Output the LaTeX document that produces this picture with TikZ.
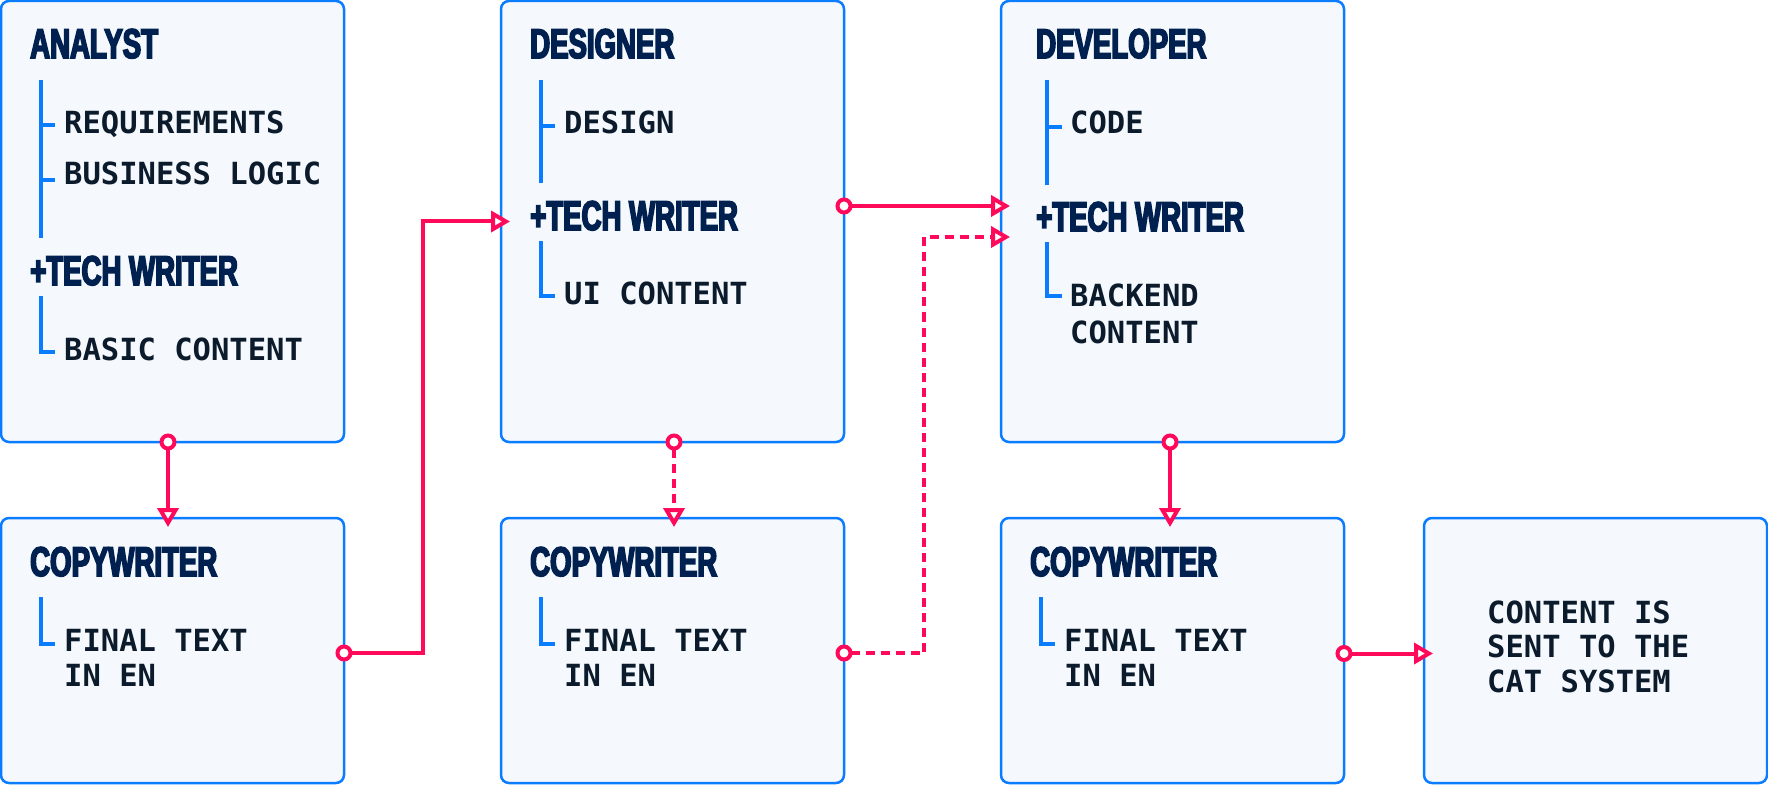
\documentclass[tikz,border=0pt]{standalone}
\usepackage{fontspec}
\usetikzlibrary{arrows.meta}
\newfontfamily\monof{DejaVu Sans Mono}
\newfontfamily\titlef[FakeStretch=0.665,FakeBold=4]{Liberation Sans Bold}
\definecolor{bl}{HTML}{0A7CFF}
\definecolor{pk}{HTML}{FF0A5B}
\definecolor{bgf}{HTML}{F5F9FE}
\definecolor{navy}{HTML}{00214F}
\definecolor{ink}{HTML}{0C1B2C}
\begin{document}
\begin{tikzpicture}[x=1pt,y=-1pt,
  box/.style={draw=bl, fill=bgf, line width=2.5pt, rounded corners=8pt, inner sep=0pt, outer sep=0pt, anchor=north west},
  ttl/.style={font=\titlef\fontsize{41.5}{44}\selectfont, text=navy, inner sep=0pt, anchor=base west},
  txt/.style={font=\monof\bfseries\fontsize{30.5}{34}\selectfont, text=ink, inner sep=0pt, anchor=base west},
  brk/.style={draw=bl, line width=4pt},
  conn/.style={draw=pk, line width=4pt, arrows={Circle[length=17pt,fill=white]-Triangle[length=19pt,width=21pt,fill=white]}, shorten <=-8.5pt, shorten >=-9pt},
  dsh/.style={dash pattern=on 9pt off 6pt}]
\useasboundingbox (0,0) rectangle (1768,791);
% boxes
\node[box, minimum width=343pt, minimum height=441pt] (an) at (1,1) {};
\node[box, minimum width=343pt, minimum height=441pt] (de) at (501,1) {};
\node[box, minimum width=343pt, minimum height=441pt] (dv) at (1001,1) {};
\node[box, minimum width=343pt, minimum height=265pt] (c1) at (1,518) {};
\node[box, minimum width=343pt, minimum height=265pt] (c2) at (501,518) {};
\node[box, minimum width=343pt, minimum height=265pt] (c3) at (1001,518) {};
\node[box, minimum width=343pt, minimum height=265pt] (fin) at (1424,518) {};
% analyst
\node[ttl] (an-t) at (30,58) {ANALYST};
\draw[brk] (41,80) -- (41,238);
\draw[brk] (41,125) -- (55,125);
\draw[brk] (41,180) -- (55,180);
\node[txt] (an-1) at (64,134) {REQUIREMENTS};
\node[txt] (an-2) at (64,185) {BUSINESS LOGIC};
\node[ttl] (an-tw) at (30,285) {+TECH WRITER};
\draw[brk] (41,296) -- (41,352) -- (55,352);
\node[txt] (an-3) at (64,360) {BASIC CONTENT};
% designer
\node[ttl] (de-t) at (530,58) {DESIGNER};
\draw[brk] (541,80) -- (541,183);
\draw[brk] (541,126) -- (555,126);
\node[txt] (de-1) at (564,134) {DESIGN};
\node[ttl] (de-tw) at (530,230) {+TECH WRITER};
\draw[brk] (541,241) -- (541,296) -- (555,296);
\node[txt] (de-2) at (564,305) {UI CONTENT};
% developer
\node[ttl] (dv-t) at (1036,58) {DEVELOPER};
\draw[brk] (1047,80) -- (1047,185);
\draw[brk] (1047,127) -- (1062,127);
\node[txt] (dv-1) at (1070,134) {CODE};
\node[ttl] (dv-tw) at (1036,231) {+TECH WRITER};
\draw[brk] (1047,242) -- (1047,296) -- (1062,296);
\node[txt] (dv-2) at (1070,306) {BACKEND};
\node[txt] (dv-3) at (1070,343) {CONTENT};
% copywriters
\foreach \ox/\nm in {0/c1,500/c2,1000/c3}{
  \node[ttl] (\nm-t) at (\ox+30,576) {COPYWRITER};
  \draw[brk] (\ox+41,597) -- (\ox+41,644) -- (\ox+55,644);
  \node[txt] (\nm-1) at (\ox+64,651.5) {FINAL TEXT};
  \node[txt] (\nm-2) at (\ox+64,686) {IN EN};
}
% final
\node[txt] (fin-1) at (1487,623) {CONTENT IS};
\node[txt] (fin-2) at (1487,657) {SENT TO THE};
\node[txt] (fin-3) at (1487,692) {CAT SYSTEM};
% connectors
\draw[conn] ([xshift=-4.5pt]an.south) -- ([xshift=-4.5pt]c1.north);
\draw[conn] ([yshift=-2.5pt]c1.east) -- ++(78.5,0) |- (de.west);
\draw[conn] ([yshift=15.5pt]de.east) -- ([yshift=15.5pt]dv.west);
\draw[conn,dsh] ([xshift=1.5pt]de.south) -- ([xshift=1.5pt]c2.north);
\draw[conn,dsh] ([yshift=-2.5pt]c2.east) -- ++(80,0) |- ([yshift=-15.5pt]dv.west);
\draw[conn] ([xshift=-2.5pt]dv.south) -- ([xshift=-2.5pt]c3.north);
\draw[conn] ([yshift=-3pt]c3.east) -- ([yshift=-3pt]fin.west);
\end{tikzpicture}
\end{document}
